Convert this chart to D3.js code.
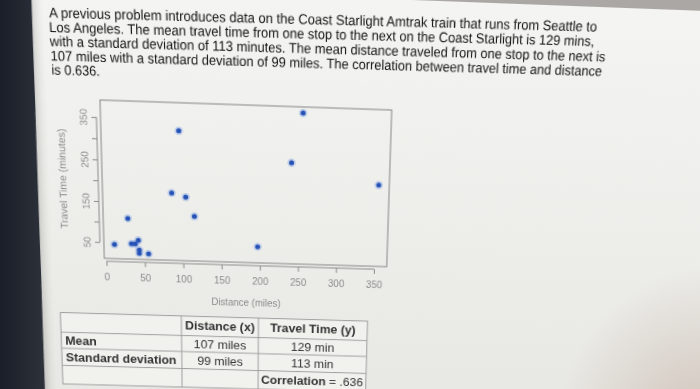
<!DOCTYPE html>
<html>
<head>
<meta charset="utf-8">
<script src="https://cdn.jsdelivr.net/npm/d3@7"></script>
<style>
  html, body { margin: 0; padding: 0; width: 700px; height: 389px; overflow: hidden; background: #252933; }
  svg { position: absolute; display: block; }
  #sheet { transform-origin: 0 0; }
  text { font-family: "Liberation Sans", Arial, Helvetica, sans-serif; }
</style>
</head>
<body>
<svg id="bg" width="700" height="389" style="left:0;top:0"></svg>
<svg id="sheet"></svg>
<script>
// ---- values ----
const distance   = [11, 29, 33, 38, 42, 43, 43, 55, 86, 96, 104, 115, 197, 240, 254, 353];
const travelTime = [45, 110, 48, 48, 57, 33, 25, 24, 175, 324, 166, 120, 50, 257, 376, 210];
const xTicks = [0, 50, 100, 150, 200, 250, 300, 350];
const yTicks = [50, 100, 150, 200, 250, 300, 350];
const yTickLabels = [50, 150, 250, 350];

const paragraph = [
  "A previous problem introduces data on the Coast Starlight Amtrak train that runs from Seattle to",
  "Los Angeles. The mean travel time from one stop to the next on the Coast Starlight is 129 mins,",
  "with a standard deviation of 113 minutes. The mean distance traveled from one stop to the next is",
  "107 miles with a standard deviation of 99 miles. The correlation between travel time and distance",
  "is 0.636."
];
const tableHead   = ["", "Distance (x)", "Travel Time (y)"];
const rowLabels   = ["Mean", "Standard deviation"];
const distStats   = ["107 miles", "99 miles"];
const timeStats   = ["129 min", "113 min"];
const correlation = ".636";

// ---- the photo is taken at an angle: map a flat page onto it ----
const W = 700, H = 389, PAD = 60;

const homography = (src, dst) => {
  const A = [], b = [];
  src.forEach(([x, y], i) => {
    const [X, Y] = dst[i];
    A.push([x, y, 1, 0, 0, 0, -x * X, -y * X]); b.push(X);
    A.push([0, 0, 0, x, y, 1, -x * Y, -y * Y]); b.push(Y);
  });
  for (let c = 0; c < 8; c++) {
    let p = c;
    for (let r = c + 1; r < 8; r++) if (Math.abs(A[r][c]) > Math.abs(A[p][c])) p = r;
    [A[c], A[p]] = [A[p], A[c]]; [b[c], b[p]] = [b[p], b[c]];
    for (let r = 0; r < 8; r++) {
      if (r === c) continue;
      const f = A[r][c] / A[c][c];
      for (let k = c; k < 8; k++) A[r][k] -= f * A[c][k];
      b[r] -= f * b[c];
    }
  }
  const h = b.map((v, i) => v / A[i][i]);
  return [[h[0], h[1], h[2]], [h[3], h[4], h[5]], [h[6], h[7], 1]];
};
const mul = (a, b) => a.map(row => [0, 1, 2].map(j => row[0] * b[0][j] + row[1] * b[1][j] + row[2] * b[2][j]));
const invert = m => {
  const [[a, b, c], [d, e, f], [g, h, i]] = m;
  const A = e * i - f * h, B = -(d * i - f * g), C = d * h - e * g;
  const det = a * A + b * B + c * C;
  return [
    [A / det, -(b * i - c * h) / det, (b * f - c * e) / det],
    [B / det, (a * i - c * g) / det, -(a * f - c * d) / det],
    [C / det, -(a * h - b * g) / det, (a * e - b * d) / det]
  ];
};
const apply = (m, [x, y]) => {
  const w = m[2][0] * x + m[2][1] * y + m[2][2];
  return [(m[0][0] * x + m[0][1] * y + m[0][2]) / w, (m[1][0] * x + m[1][1] * y + m[1][2]) / w];
};

// plot box: flat rectangle -> corners as seen in the photo
const box = { left: 100, top: 100, right: 390, bottom: 260 };
const boxPhoto = [[100, 100], [391.7, 110], [386.7, 266.7], [104.3, 258.3]];
const Hm = homography(
  [[box.left, box.top], [box.right, box.top], [box.right, box.bottom], [box.left, box.bottom]],
  boxPhoto
);
const Hinv = invert(Hm);
const toFlat = p => apply(Hinv, p);

const shift = t => [[1, 0, t], [0, 1, t], [0, 0, 1]];
const M = mul(mul(shift(PAD), Hm), shift(-PAD));

// ---- background behind the sheet (screen coords) ----
const bg = d3.select("#bg");
const bgDefs = bg.append("defs");
const dark = bgDefs.append("linearGradient").attr("id", "dark");
dark.append("stop").attr("offset", 0).attr("stop-color", "#1a1e28");
dark.append("stop").attr("offset", 1).attr("stop-color", "#30343d");
bg.append("rect").attr("width", 50).attr("height", H).attr("fill", "url(#dark)");
bg.append("rect").attr("x", 50).attr("width", W - 50).attr("height", H).attr("fill", "#30343d");
bg.append("rect").attr("x", 200).attr("width", W - 200).attr("height", 30).attr("fill", "#aaa7a4");

// ---- the sheet ----
const sheet = d3.select("#sheet")
  .attr("width", W + 2 * PAD)
  .attr("height", H + 2 * PAD)
  .style("left", `${-PAD}px`)
  .style("top", `${-PAD}px`)
  .style("transform", `matrix3d(${M[0][0]},${M[1][0]},0,${M[2][0]},${M[0][1]},${M[1][1]},0,${M[2][1]},0,0,1,0,${M[0][2]},${M[1][2]},0,${M[2][2]})`);

const defs = sheet.append("defs");
const paper = defs.append("linearGradient").attr("id", "paper").attr("x1", 0).attr("y1", 0).attr("x2", 0).attr("y2", 1);
paper.append("stop").attr("offset", 0).attr("stop-color", "#f4f4f2");
paper.append("stop").attr("offset", 1).attr("stop-color", "#e6e6e2");
const edge = defs.append("linearGradient").attr("id", "edge");
edge.append("stop").attr("offset", 0).attr("stop-color", "#b4b4b1").attr("stop-opacity", 0.7);
edge.append("stop").attr("offset", 1).attr("stop-color", "#e8e8e5").attr("stop-opacity", 0);
const glow = defs.append("radialGradient").attr("id", "glow")
  .attr("cx", 1).attr("cy", 1).attr("r", 0.9);
glow.append("stop").attr("offset", 0).attr("stop-color", "#cfc2b8").attr("stop-opacity", 0.95);
glow.append("stop").attr("offset", 1).attr("stop-color", "#cfc2b8").attr("stop-opacity", 0);

const g = sheet.append("g").attr("transform", `translate(${PAD}, ${PAD})`);

// page outline as seen in the photo: left edge and top edge
const pTL = toFlat([31.7, 0]), pBL = toFlat([45, H + 4]);
const pageTop = toFlat([530, 4.5])[1];
const far = W + PAD;
g.append("path")
  .attr("d", `M${pTL[0]},${pageTop}L${far},${pageTop}L${far},${H + PAD}L${pBL[0]},${H + PAD}Z`)
  .attr("fill", "url(#paper)");
g.append("path")
  .attr("d", `M${pTL[0]},${pageTop}L${pTL[0] + 12},${pageTop}L${pBL[0] + 12},${H + PAD}L${pBL[0]},${H + PAD}Z`)
  .attr("fill", "url(#edge)");
g.append("rect")
  .attr("x", 560).attr("y", 230).attr("width", 170).attr("height", 200)
  .attr("fill", "url(#glow)");

// paragraph, laid along where each line starts and ends in the photo
const lineStart = [[49.3, 17.5], [49.3, 32], [50, 46], [50.7, 60.5], [51.7, 74.5]];
const lineEnd   = [[596.7, 31.5], [594, 46], [605, 61.5], [601.7, 76], [100, 75.8]];
paragraph.forEach((line, i) => {
  const [x0, y0] = toFlat(lineStart[i]);
  const [x1, y1] = toFlat(lineEnd[i]);
  const len = Math.hypot(x1 - x0, y1 - y0);
  const angle = Math.atan2(y1 - y0, x1 - x0) * 180 / Math.PI;
  g.append("text")
    .attr("transform", `translate(${x0}, ${y0}) rotate(${angle})`)
    .attr("textLength", len)
    .attr("lengthAdjust", "spacingAndGlyphs")
    .style("font-size", "13.6px")
    .style("fill", "#161616")
    .text(line);
});

// ---- scatter plot, R style ----
const pad4 = ([lo, hi]) => [lo - 0.04 * (hi - lo), hi + 0.04 * (hi - lo)];
const xScale = d3.scaleLinear().domain(pad4(d3.extent(distance))).range([box.left, box.right]);
const yScale = d3.scaleLinear().domain(pad4(d3.extent(travelTime))).range([box.bottom, box.top]);
const grey = "#8a8a8a";

g.append("rect")
  .attr("x", box.left).attr("y", box.top)
  .attr("width", box.right - box.left).attr("height", box.bottom - box.top)
  .attr("fill", "none").attr("stroke", "#858585").attr("stroke-width", 1);

const xAxis = g.append("g")
  .attr("transform", `translate(0, ${box.bottom + 3})`)
  .call(d3.axisBottom(xScale).tickValues(xTicks).tickSize(5).tickPadding(8));
xAxis.select(".domain").remove();
xAxis.append("line")
  .attr("x1", xScale(xTicks[0])).attr("x2", xScale(xTicks[xTicks.length - 1]))
  .attr("stroke", grey);

const yAxis = g.append("g")
  .attr("transform", `translate(${box.left - 4}, 0)`)
  .call(d3.axisLeft(yScale).tickValues(yTicks).tickSize(5)
    .tickFormat(d => yTickLabels.includes(d) ? d : ""));
yAxis.select(".domain").remove();
yAxis.append("line")
  .attr("y1", yScale(yTicks[0])).attr("y2", yScale(yTicks[yTicks.length - 1]))
  .attr("stroke", grey);
yAxis.selectAll(".tick text")
  .attr("transform", "rotate(-90)")
  .attr("x", 0).attr("y", -9.5).attr("dy", 0)
  .attr("text-anchor", "middle");

[xAxis, yAxis].forEach(a => {
  a.selectAll(".tick line").attr("stroke", grey);
  a.selectAll(".tick text")
    .style("font-family", "'Liberation Sans', Arial, sans-serif")
    .style("font-size", "10px")
    .style("fill", grey);
});

const xty = toFlat([246.7, 302.5])[1];
g.append("text")
  .attr("x", (box.left + box.right) / 2).attr("y", xty)
  .attr("text-anchor", "middle").attr("dominant-baseline", "central")
  .style("font-size", "10px").style("fill", grey)
  .text("Distance (miles)");

const ytx = toFlat([62.5, 177])[0];
g.append("text")
  .attr("transform", `translate(${ytx}, ${(box.top + box.bottom) / 2}) rotate(-90)`)
  .attr("text-anchor", "middle").attr("dominant-baseline", "central")
  .style("font-size", "10.5px").style("fill", grey)
  .text("Travel Time (minutes)");

const points = distance.map((d, i) => ({ x: d, y: travelTime[i] }));
g.selectAll("circle.halo")
  .data(points)
  .join("circle")
    .attr("class", "halo")
    .attr("cx", d => xScale(d.x)).attr("cy", d => yScale(d.y))
    .attr("r", 4.2)
    .attr("fill", "#86a7e3").attr("opacity", 0.45);
g.selectAll("circle.dot")
  .data(points)
  .join("circle")
    .attr("class", "dot")
    .attr("cx", d => xScale(d.x)).attr("cy", d => yScale(d.y))
    .attr("r", 2.5)
    .attr("fill", "#2853b6");

// ---- summary table ----
const colX = [61.7, 181.7, 258.3, 366.7].map(x => toFlat([x, 350])[0]);
const rowY = [317, 336.5, 352.5, 369.5, 388].map(y => toFlat([220, y])[1]);
const table = g.append("g");
table.append("rect")
  .attr("x", colX[0]).attr("y", rowY[0])
  .attr("width", colX[3] - colX[0]).attr("height", rowY[4] - rowY[0])
  .attr("fill", "#f1f1ee").attr("stroke", "#9c9c9c");
rowY.slice(1, 4).forEach(y => table.append("line")
  .attr("x1", colX[0]).attr("x2", colX[3]).attr("y1", y).attr("y2", y)
  .attr("stroke", "#9c9c9c"));
colX.slice(1, 3).forEach(x => table.append("line")
  .attr("x1", x).attr("x2", x).attr("y1", rowY[0]).attr("y2", rowY[4])
  .attr("stroke", "#9c9c9c"));

const cell = (col, row, txt, bold, anchor) => {
  const x = anchor === "start" ? colX[col] + 4 : (colX[col] + colX[col + 1]) / 2;
  return table.append("text")
    .attr("x", x).attr("y", (rowY[row] + rowY[row + 1]) / 2)
    .attr("text-anchor", anchor || "middle").attr("dominant-baseline", "central")
    .style("font-size", "12.8px").style("font-weight", bold ? "bold" : "normal")
    .style("fill", "#333")
    .text(txt);
};
tableHead.forEach((h, c) => { if (h) cell(c, 0, h, true); });
rowLabels.forEach((lab, r) => {
  cell(0, r + 1, lab, true, "start");
  cell(1, r + 1, distStats[r], false);
  cell(2, r + 1, timeStats[r], false);
});
const corr = cell(2, 3, "", false);
corr.append("tspan").style("font-weight", "bold").text("Correlation");
corr.append("tspan").text(" = " + correlation);
</script>
</body>
</html>
